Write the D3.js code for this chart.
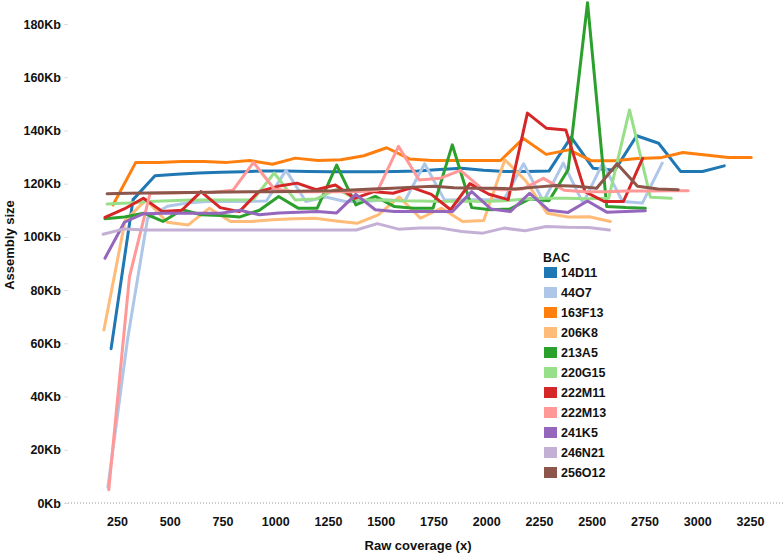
<!DOCTYPE html>
<html><head><meta charset="utf-8">
<script src="https://cdn.jsdelivr.net/npm/d3@7"></script>
<style>
body{margin:0;background:#fff;}
svg{display:block;font-family:"Liberation Sans",Arial,sans-serif;}
</style></head>
<body><svg id="chart" width="784" height="555"></svg>
<script>
const categories = ["14D11","44O7","163F13","206K8","213A5","220G15","222M11","222M13","241K5","246N21","256O12"];
const colors = ["#1f77b4","#aec7e8","#ff7f0e","#ffbb78","#2ca02c","#98df8a","#d62728","#ff9896","#9467bd","#c5b0d5","#8c564b"];
const yTicks = [0,20,40,60,80,100,120,140,160,180];
const xTicks = [250,500,750,1000,1250,1500,1750,2000,2250,2500,2750,3000,3250];

const cov14D11 = [222,326,430,533,637,741,845,949,1052,1156,1260,1364,1468,1571,1675,1779,1883,1987,2090,2194,2298,2402,2506,2609,2713,2817,2921,3025,3128];
const kb14D11 = [58,114,123,123.5,124,124.3,124.5,124.8,124.8,124.6,124.5,124.5,124.5,124.6,124.8,125.3,125.8,125,124.6,124.6,124.8,137.5,125.8,125,138,135.2,124.6,124.6,126.7];
const cov44O7 = [207,301,395,489,582,676,770,864,958,1051,1145,1239,1333,1427,1520,1614,1708,1802,1896,1989,2083,2177,2271,2365,2459,2552,2646,2740,2834];
const kb44O7 = [6,62,107,111.5,112.7,113.3,113.3,113.3,113.5,125,113.3,115,113.3,113.3,114,113.5,127.5,113.9,114,114,114,127.5,113.3,127.7,112.7,127.7,113.3,112.7,127.7];
const cov163F13 = [231,339,447,555,663,771,879,987,1095,1203,1312,1420,1528,1636,1744,1852,1960,2068,2176,2284,2392,2500,2608,2716,2824,2932,3040,3148,3256];
const kb163F13 = [112,128,128,128.3,128.3,128,128.7,127.3,129.6,128.7,129,130.5,133.5,129.3,128.7,128.7,128.7,128.7,137,131,132.7,128.6,128.6,129.5,129.7,131.7,130.8,129.8,129.8];
const cov206K8 = [188,288,388,488,588,688,788,888,988,1088,1188,1288,1388,1488,1588,1688,1788,1888,1988,2088,2188,2288,2388,2488,2588];
const kb206K8 = [65,106,114,105.5,104.5,110.8,105.8,105.8,106.4,106.8,107,106,105.1,108.3,115,107,110.8,105.8,106.2,129,121,108.9,107.5,107.6,105.8];
const cov213A5 = [193,285,376,468,559,650,742,833,925,1016,1108,1199,1291,1382,1474,1565,1656,1748,1839,1931,2022,2114,2205,2297,2388,2480,2571,2662,2754];
const kb213A5 = [106.8,107.5,108.9,105.8,110.2,108.3,108,107.5,110,115.2,110.8,110.8,127,112,115.2,111.4,110.8,110.8,134.6,111,110.2,110.5,114.3,113.6,125.2,188,111.4,111,110.8];
const cov220G15 = [203,302,401,500,599,698,797,896,995,1094,1193,1292,1391,1490,1589,1688,1787,1886,1985,2085,2184,2283,2382,2481,2580,2679,2778,2877];
const kb220G15 = [112.4,112.7,113.3,113.6,113.9,113.9,113.9,114,124,113.9,114.2,118,113.9,113.9,113.6,113.5,113.3,113.5,113.3,113.6,114.2,114.5,114.5,114.3,114.5,147.7,114.9,114.5];
const cov222M11 = [193,284,375,466,557,648,739,830,921,1012,1103,1194,1285,1376,1467,1558,1649,1740,1831,1922,2013,2104,2195,2286,2377,2468,2559,2650,2741];
const kb222M11 = [107.3,110.5,114.5,109.5,110,117,111,109.5,117,119,120.2,117.7,119.5,114.5,117,116.4,118.5,116,110.2,120,116,114,146.5,140.8,140.2,117,113.3,113.3,129.5];
const cov222M13 = [211,309,407,505,603,701,799,897,995,1094,1192,1290,1388,1486,1584,1682,1780,1878,1976,2075,2173,2271,2369,2467,2565,2663,2761,2859,2957];
const kb222M13 = [5,85,116.4,116.5,116.7,116.7,117.5,128,118,117,117,117,117,117.5,134,121.4,122,125,118.3,117.7,118,122,117.5,117,117,117.2,117.2,117.3,117.3];
const cov241K5 = [193,285,376,468,559,650,742,833,925,1016,1108,1199,1291,1382,1474,1565,1656,1748,1839,1931,2022,2114,2205,2297,2388,2480,2571,2662,2754];
const kb241K5 = [92,105.5,108.7,108.9,108.9,108.9,108.9,110,108.3,109,109.3,109.5,109,116,110.2,109.5,109.5,109.5,109.5,117,110.5,109.5,116.4,110,109.2,113.5,109.3,109.5,109.8];
const cov246N21 = [184,284,384,484,584,684,784,884,984,1084,1184,1284,1384,1484,1584,1684,1784,1884,1984,2084,2184,2284,2384,2484,2584];
const kb246N21 = [101,103,102.6,102.6,102.6,102.6,102.6,102.6,102.6,102.6,102.6,102.6,102.6,105,102.9,103.3,103.3,102,101.4,103.3,102.3,103.9,103.6,103.5,102.6];
const cov256O12 = [203,299,396,493,589,686,783,880,976,1073,1170,1266,1363,1460,1556,1653,1750,1847,1943,2040,2137,2233,2330,2427,2523,2620,2717,2814,2910];
const kb256O12 = [116.2,116.4,116.5,116.6,116.7,116.8,116.9,117,117,117.1,117.2,117.3,117.6,118,118.3,118.7,119,118.5,118.3,118.3,118,118.7,119.3,119,118.3,127.5,119,118,117.7];

const coverages = [cov14D11,cov44O7,cov163F13,cov206K8,cov213A5,cov220G15,cov222M11,cov222M13,cov241K5,cov246N21,cov256O12];
const sizes = [kb14D11,kb44O7,kb163F13,kb206K8,kb213A5,kb220G15,kb222M11,kb222M13,kb241K5,kb246N21,kb256O12];
const series = categories.map((name,i)=>({name, color:colors[i], points: coverages[i].map((c,j)=>({x:c,y:sizes[i][j]}))}));

const svg = d3.select("#chart");
const x = d3.scaleLinear().domain([250,3250]).range([117,750]);
const y = d3.scaleLinear().domain([0,180]).range([503,24]);

// zero line (dotted)
svg.append("line").attr("x1",65).attr("x2",784).attr("y1",y(0)).attr("y2",y(0))
  .attr("stroke","#999").attr("stroke-width",1).attr("stroke-dasharray","1,2");

// y axis
const yAxis = d3.axisLeft(y).tickValues(yTicks).tickFormat(d=>d+"Kb").tickSize(4).tickPadding(3);
const gy = svg.append("g").attr("transform","translate(68,0)").call(yAxis);
gy.select(".domain").remove();
gy.selectAll(".tick line").attr("stroke","#ddd");
gy.selectAll(".tick text").attr("font-size",12.5).attr("font-weight","bold").attr("fill","#111")
  .attr("font-family","Liberation Sans, Arial, sans-serif");

// x axis
const xAxis = d3.axisBottom(x).tickValues(xTicks).tickFormat(d3.format("d")).tickSize(0).tickPadding(14);
const gx = svg.append("g").attr("transform",`translate(0,${y(0)})`).call(xAxis);
gx.select(".domain").remove();
gx.selectAll(".tick text").attr("font-size",12.5).attr("font-weight","bold").attr("fill","#111")
  .attr("font-family","Liberation Sans, Arial, sans-serif");

// axis titles
svg.append("text").attr("x",418).attr("y",550).attr("text-anchor","middle")
  .attr("font-size",13).attr("font-weight","bold").attr("fill","#111").text("Raw coverage (x)");
svg.append("text").attr("transform","translate(14,245) rotate(-90)").attr("text-anchor","middle")
  .attr("font-size",13).attr("font-weight","bold").attr("fill","#111").text("Assembly size");

// lines
const line = d3.line().x(d=>x(d.x)).y(d=>y(d.y));
svg.append("g").selectAll("path").data(series).join("path")
  .attr("d",d=>line(d.points)).attr("fill","none").attr("stroke",d=>d.color)
  .attr("stroke-width",3).attr("stroke-linejoin","round").attr("stroke-linecap","round");

// legend
const lg = svg.append("g").attr("transform","translate(543,262)");
lg.append("text").attr("x",0).attr("y",0).attr("font-size",12.5).attr("font-weight","bold").attr("fill","#111").text("BAC");
const items = lg.selectAll("g.item").data(series).join("g").attr("class","item")
  .attr("transform",(d,i)=>`translate(1,${5+i*20})`);
items.append("rect").attr("width",13).attr("height",11).attr("fill",d=>d.color);
items.append("text").attr("x",17).attr("y",10).attr("font-size",12.5).attr("font-weight","bold").attr("fill","#111").text(d=>d.name);
</script></body></html>
